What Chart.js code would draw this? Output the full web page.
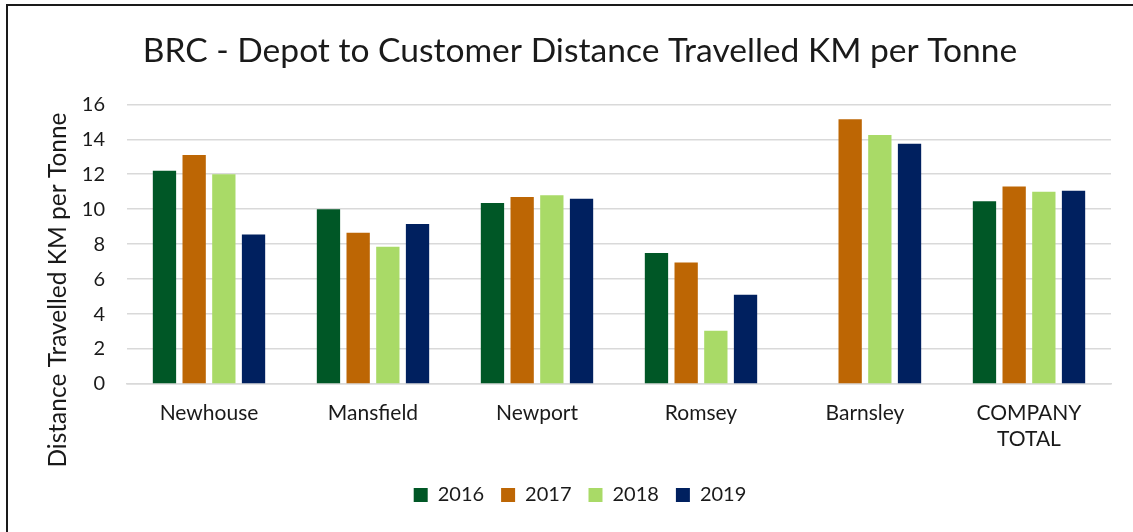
<!DOCTYPE html>
<html>
<head>
<meta charset="utf-8">
<script src="https://cdn.jsdelivr.net/npm/chart.js@4"></script>
<style>
  html, body { margin: 0; padding: 0; background: #fff; overflow: hidden; }
  #wrap { position: absolute; left: 0; top: 0; width: 1133px; height: 532px; }
  #frame { position: absolute; left: 6px; top: 4px; width: 1200px; height: 600px;
           border: 2px solid #1a1a1a; box-sizing: border-box; pointer-events: none; }
</style>
</head>
<body>
<div id="wrap"><canvas id="chart" width="1133" height="532"></canvas></div>
<div id="frame"></div>
<script>
// ─── Data ─────────────────────────────────────────────────────────────────────
const depots = ['Newhouse', 'Mansfield', 'Newport', 'Romsey', 'Barnsley', ['COMPANY', 'TOTAL']];
const years  = ['2016', '2017', '2018', '2019'];

const km2016 = [12.2, 10.0, 10.35, 7.5, null, 10.45];
const km2017 = [13.1, 8.65, 10.7, 6.95, 15.15, 11.3];
const km2018 = [12.0, 7.85, 10.8, 3.05, 14.25, 11.0];
const km2019 = [8.55, 9.15, 10.6, 5.1, 13.75, 11.05];

const yearColors = ['#005726', '#BD6604', '#A9DA67', '#00205F'];
const FONT = 'Lato, "Open Sans", sans-serif';
const yTitle = 'Distance Travelled KM per Tonne';

// ─── Y axis title (Excel puts it lower than the plot centre) ──────────────────
const yTitlePlugin = {
    id: 'yTitle',
    afterDraw(chart) {
        const ctx = chart.ctx;
        ctx.save();
        ctx.translate(58, 290);
        ctx.rotate(-Math.PI / 2);
        ctx.font = `24.5px ${FONT}`;
        ctx.fillStyle = '#1a1a1a';
        ctx.textAlign = 'center';
        ctx.textBaseline = 'middle';
        ctx.fillText(yTitle, 0, 0);
        ctx.restore();
    }
};

// ─── Chart ────────────────────────────────────────────────────────────────────
const series = [km2016, km2017, km2018, km2019];

new Chart(document.getElementById('chart'), {
    type: 'bar',
    data: {
        labels: depots,
        datasets: years.map((y, i) => ({
            label: y,
            data: series[i],
            backgroundColor: yearColors[i],
            categoryPercentage: 0.724,
            barPercentage: 0.785
        }))
    },
    plugins: [yTitlePlugin],
    options: {
        responsive: false,
        animation: false,
        layout: { padding: { left: 49, right: 22, top: 0, bottom: 17 } },
        plugins: {
            title: {
                display: true,
                text: 'BRC - Depot to Customer Distance Travelled KM per Tonne',
                color: '#1a1a1a',
                font: { family: FONT, size: 33.6, weight: 'normal' },
                padding: { top: 31, bottom: 33 }
            },
            legend: {
                position: 'bottom',
                labels: {
                    color: '#1a1a1a',
                    font: { family: FONT, size: 20 },
                    boxWidth: 14, boxHeight: 14,
                    padding: 17
                }
            },
            tooltip: { enabled: false }
        },
        scales: {
            x: {
                grid: { display: false, drawTicks: false },
                border: { color: '#d9d9d9', width: 1.5 },
                ticks: { color: '#1a1a1a', font: { family: FONT, size: 21 }, padding: 17, maxRotation: 0 },
                afterFit(scale) { scale.height = 84; }
            },
            y: {
                min: 0, max: 16,
                ticks: { stepSize: 2, color: '#1a1a1a', font: { family: FONT, size: 20 }, padding: 22 },
                grid: { color: '#d9d9d9', lineWidth: 1.5, drawTicks: false },
                border: { display: false },
                afterFit(scale) { scale.width = 78; }
            }
        }
    }
});
</script>
</body>
</html>
